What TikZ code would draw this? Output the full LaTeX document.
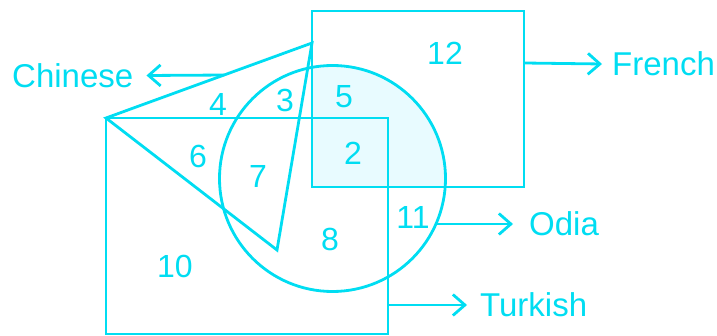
\documentclass[tikz,border=0pt]{standalone}
\usepackage{fontspec}
\setmainfont{Liberation Sans}
\usetikzlibrary{arrows.meta,calc}
\definecolor{cy}{HTML}{00DDF2}
\definecolor{cyfill}{HTML}{E8FBFF}
\begin{document}
\begin{tikzpicture}[x=1pt,y=-1pt,
  shapeline/.style={draw=cy,line width=2.8pt},
  box/.style={shapeline,rectangle,inner sep=0pt,outer sep=0pt},
  num/.style={text=cy,font=\fontsize{32}{32}\selectfont,inner sep=0pt},
  langlabel/.style={text=cy,font=\fontsize{33}{33}\selectfont,inner sep=0pt},
  conn/.style={draw=cy,line width=2.8pt,-{Straight Barb[length=12pt,width=21pt,line width=2.8pt]}}
]
\useasboundingbox (0,0) rectangle (717,336);
% light fill of circle/French overlap
\begin{scope}
  \clip (332.5,178.5) circle (113pt);
  \fill[cyfill] (312,11) rectangle (524,187);
\end{scope}
% sets
\node[box,minimum width=212pt,minimum height=176pt] (french) at (418,99) {};
\node[box,minimum width=282pt,minimum height=216pt] (turkish) at (247,226) {};
\node[shapeline,circle,minimum size=226pt,inner sep=0pt,outer sep=0pt] (odia) at (332.5,178.5) {};
\coordinate (ta) at (106,118);
\coordinate (tb) at (312,43);
\coordinate (tc) at (277,250);
\draw[shapeline,line join=miter] (ta) -- (tb) -- (tc) -- cycle;
% labels
\node[langlabel,anchor=west] (lchinese) at (12,75.5) {Chinese};
\node[langlabel,anchor=west] (lfrench) at (612,64) {French};
\node[langlabel,anchor=west] (lodia) at (529,224) {Odia};
\node[langlabel,anchor=west] (lturkish) at (480,305) {Turkish};
% connectors
\coordinate (cstart) at ($(ta)!0.573!(tb)$);
\draw[conn] (cstart) -- ([xshift=13pt]lchinese.east);
\coordinate (fstart) at ([yshift=36pt]french.east);
\draw[conn] (fstart) -- ([xshift=-10pt]lfrench.west);
\coordinate (ostart) at (436.4,224);
\draw[conn] (ostart) -- ([xshift=-16pt]lodia.west);
\coordinate (tstart) at ([yshift=-79pt]turkish.east);
\draw[conn] (tstart) -- ([xshift=-13pt]lturkish.west);
% region numbers
\node[num] (n12) at (445,53) {12};
\node[num] (n4) at (218,104) {4};
\node[num] (n3) at (285,100) {3};
\node[num] (n5) at (344,97) {5};
\node[num] (n2) at (353,153) {2};
\node[num] (n6) at (198,156) {6};
\node[num] (n7) at (258,176) {7};
\node[num] (n8) at (330,239) {8};
\node[num] (n11) at (413,217) {11};
\node[num] (n10) at (175,266) {10};
\end{tikzpicture}
\end{document}
